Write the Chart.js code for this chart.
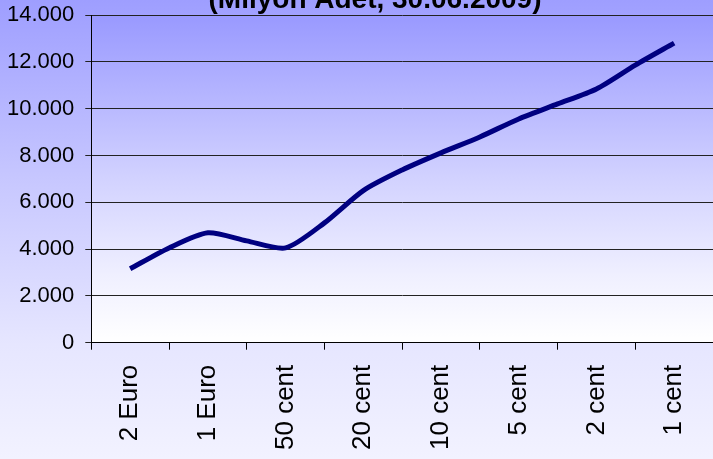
<!DOCTYPE html>
<html>
<head>
<meta charset="utf-8">
<script src="https://cdn.jsdelivr.net/npm/chart.js@4/dist/chart.umd.min.js"></script>
<style>
  html, body { margin: 0; padding: 0; overflow: hidden; }
</style>
</head>
<body>
<canvas id="coins" width="713" height="459"></canvas>
<script>
var coinLabels = ["2 Euro", "1 Euro", "50 cent", "20 cent", "10 cent", "5 cent", "2 cent", "1 cent"];
// one reading at each coin and one half way between
var amounts = [3160, 4050, 4700, 4350, 4050, 5120, 6500, 7380, 8110, 8790, 9560, 10200, 10840, 11860, 12800];
var yTicks = [0, 2000, 4000, 6000, 8000, 10000, 12000, 14000];
var titleText = "(Milyon Adet, 30.06.2009)";

var fontName = "'Liberation Sans', Arial, sans-serif";

var backdrop = {
  id: 'backdrop',
  beforeDraw: function(chart) {
    var ctx = chart.ctx, a = chart.chartArea;
    ctx.save();
    var g = ctx.createLinearGradient(0, 0, 0, chart.height);
    g.addColorStop(0, '#9e9eff');
    g.addColorStop(0.4, '#c8c8ff');
    g.addColorStop(0.75, '#e6e6ff');
    g.addColorStop(1, '#f2f2ff');
    ctx.fillStyle = g;
    ctx.fillRect(0, 0, chart.width, chart.height);
    var p = ctx.createLinearGradient(0, a.top, 0, a.bottom);
    p.addColorStop(0, '#9999ff');
    p.addColorStop(0.5, '#d2d2ff');
    p.addColorStop(0.8, '#f0f0ff');
    p.addColorStop(1, '#ffffff');
    ctx.fillStyle = p;
    ctx.fillRect(a.left, a.top, a.right - a.left, a.bottom - a.top);
    ctx.restore();
  },
  afterDraw: function(chart) {
    var ctx = chart.ctx;
    ctx.save();
    ctx.font = "bold 28px " + fontName;
    ctx.fillStyle = '#000';
    ctx.textAlign = 'center';
    ctx.textBaseline = 'alphabetic';
    ctx.fillText(titleText, 375, 8);
    ctx.restore();
  }
};

// labels may hang over the plot edges, as in the original
function noOverhang(axis) {
  axis.paddingTop = 0;
  axis.paddingRight = 0;
  axis.paddingLeft = 0;
}

var el = document.getElementById("coins");
var chart = new Chart(el, {
  type: 'line',
  data: {
    datasets: [{
      label: 'Milyon Adet',
      data: amounts.map(function(v, i) { return { x: i / 2, y: v }; }),
      borderColor: '#000080',
      borderWidth: 5,
      pointRadius: 0,
      tension: 0.25,
      fill: false,
      xAxisID: 'x',
      yAxisID: 'y'
    }]
  },
  plugins: [backdrop],
  options: {
    responsive: false,
    animation: false,
    layout: { padding: { left: -4, top: 15, right: -2, bottom: -6 } },
    plugins: {
      legend: { display: false },
      title: { display: false },
      tooltip: { enabled: false }
    },
    scales: {
      x: {
        type: 'linear',
        min: -0.5,
        max: 7.5,
        display: false
      },
      coin: {
        type: 'category',
        labels: coinLabels,
        position: 'bottom',
        offset: true,
        afterFit: noOverhang,
        grid: {
          offset: true,
          drawOnChartArea: false,
          tickLength: 7,
          color: '#000'
        },
        border: { color: '#000', width: 1 },
        ticks: {
          minRotation: 90,
          maxRotation: 90,
          padding: 15,
          color: '#000',
          font: { family: fontName, size: 26 }
        }
      },
      y: {
        min: 0,
        max: 14000,
        afterBuildTicks: function(axis) {
          axis.ticks = yTicks.map(function(v) { return { value: v }; });
        },
        afterFit: noOverhang,
        grid: { color: '#222', tickLength: 6 },
        border: { color: '#000', width: 1 },
        ticks: {
          padding: 11,
          color: '#000',
          font: { family: fontName, size: 22 },
          callback: function(v) { return v.toLocaleString('de-DE'); }
        }
      }
    }
  }
});
</script>
</body>
</html>
